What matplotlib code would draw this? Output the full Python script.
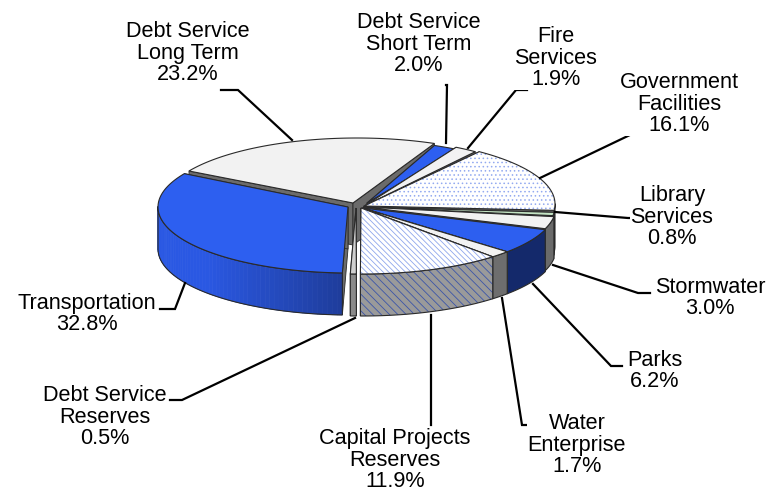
import numpy as np
import matplotlib
matplotlib.use("Agg")
import matplotlib.pyplot as plt
from matplotlib.patches import Polygon

plt.rcParams["font.family"] = ["Liberation Sans", "DejaVu Sans"]
plt.rcParams["hatch.linewidth"] = 0.6

# Budget shares, clockwise from the upper left
names = ["Debt Service\nLong Term", "Debt Service\nShort Term", "Fire\nServices",
         "Government\nFacilities", "Library\nServices", "Stormwater", "Parks",
         "Water\nEnterprise", "Capital Projects\nReserves", "Debt Service\nReserves",
         "Transportation"]
shares = [23.2, 2.0, 1.9, 16.1, 0.8, 3.0, 6.2, 1.7, 11.9, 0.5, 32.8]

# Pie geometry in pixels
start_angle = 150.0
rx = [194, 194, 194, 194, 194, 194, 194, 194, 194, 194, 192]
ry = 66
depth = 42
rim_center = [(357, 204), (357, 206), (357, 204), (361, 204), (361, 206), (362, 207),
              (362, 208), (362, 208), (362, 208), (358, 208), (350, 207)]
apex = [(353, 203), (367, 203), (366, 205), (364, 206), (364, 207), (364, 207),
        (363, 208), (362, 208), (361, 208), (356, 208), (348, 207)]

# Slice colours
top_colors = ["#f2f2f2", "#2d5ff0", "#f2f2f2", "#ffffff", "#c4e4c4", "#f2f2f2", "#2d5ff0",
              "#f2f2f2", "#ffffff", "#cfcfcf", "#2d5ff0"]
side_colors = ["#7a7a7a", "#1f3f9e", "#7a7a7a", "#7a7a7a", "#7a7a7a", "#6a6a6a", "#14296b",
               "#6e6e6e", "#9a9a9a", "#8a8a8a", "#2a55d4"]
top_hatch = {3: ("....", "#93aaf0"), 8: ("\\\\\\\\\\\\", "#8ea6ec")}
side_hatch = {8: ("\\\\\\\\", "#3c55a8")}
wall_color = "#6b6b6b"
edge_color = "#2a2a2a"

# Label centres and leader lines
label_pos = [(188, 53), (419, 44), (556, 58), (679, 104), (672, 217), (710, 298),
             (655, 371), (577, 445), (395, 460), (105, 417), (87, 314)]
leaders = [[(221, 90), (238, 90), (292, 140)],
           [(446, 85), (447, 85), (446, 143)],
           [(527, 90), (516, 90), (468, 148)],
           [(645, 134), (632, 134), (540, 178)],
           [(639, 218), (628, 218), (555, 212)],
           [(650, 293), (638, 293), (553, 265)],
           [(622, 366), (611, 366), (533, 284)],
           [(535, 425), (522, 425), (502, 298)],
           [(431, 425), (431, 422), (431, 315)],
           [(170, 400), (182, 400), (355, 318)],
           [(160, 309), (175, 309), (185, 283)]]

fig = plt.figure(figsize=(7.78, 4.98), dpi=100)
ax = fig.add_axes([0, 0, 1, 1])
ax.set_xlim(0, 778)
ax.set_ylim(498, 0)
ax.axis("off")


def rim_points(i, t0, t1, n=80):
    t = np.radians(np.linspace(t0, t1, n))
    cx, cy = rim_center[i]
    return np.column_stack((cx + rx[i] * np.cos(t), cy - ry * np.sin(t)))


def draw_side(i, pts):
    # Only the part of the rim on the lower half faces the viewer
    visible = pts[pts[:, 1] >= rim_center[i][1] - 1]
    if len(visible) < 2:
        return
    bottom = visible[::-1] + [0, depth]
    outline = np.vstack((visible, bottom))
    if i == len(shares) - 1:
        # Shaded band on the large blue slice
        for a, b, c, d in zip(visible[:-1], visible[1:], bottom[::-1][:-1], bottom[::-1][1:]):
            u = (a[0] - 158) / 190
            mix = np.clip((1 - u) * 1.35, 0, 1)
            col = np.array([0.118, 0.235, 0.60]) * (1 - mix) + np.array([0.165, 0.345, 0.89]) * mix
            ax.add_patch(Polygon([a, b, d, c], closed=True, facecolor=col, edgecolor=col, lw=0.5))
        ax.add_patch(Polygon(outline, closed=True, fill=False, edgecolor=edge_color, lw=0.8))
    elif i in side_hatch:
        ax.add_patch(Polygon(outline, closed=True, facecolor=side_colors[i],
                             edgecolor=side_hatch[i][1], hatch=side_hatch[i][0], lw=0))
        ax.add_patch(Polygon(outline, closed=True, fill=False, edgecolor=edge_color, lw=0.8))
    else:
        ax.add_patch(Polygon(outline, closed=True, facecolor=side_colors[i],
                             edgecolor=edge_color, lw=0.8))


# Back slices first so the front ones cover them
angle = start_angle
for i, share in enumerate(shares):
    t0 = angle
    t1 = angle - share * 3.6
    angle = t1
    pts = rim_points(i, t0, t1)
    ap = np.array(apex[i], dtype=float)

    # Cut faces of the slice
    for end in (pts[0], pts[-1]):
        wall = [ap, end, end + [0, depth], ap + [0, depth]]
        ax.add_patch(Polygon(wall, closed=True, facecolor=wall_color, edgecolor=edge_color, lw=0.6))

    draw_side(i, pts)

    top = np.vstack((ap, pts))
    if i in top_hatch:
        ax.add_patch(Polygon(top, closed=True, facecolor=top_colors[i],
                             edgecolor=top_hatch[i][1], hatch=top_hatch[i][0], lw=0))
        ax.add_patch(Polygon(top, closed=True, fill=False, edgecolor=edge_color, lw=0.8))
    else:
        ax.add_patch(Polygon(top, closed=True, facecolor=top_colors[i],
                             edgecolor=edge_color, lw=0.8))

for line in leaders:
    xs, ys = zip(*line)
    ax.plot(xs, ys, color="black", lw=1.6, solid_joinstyle="miter")

for name, share, (x, y) in zip(names, shares, label_pos):
    ax.text(x, y, f"{name}\n{share:.1f}%", ha="center", va="center",
            fontsize=15.6, color="black", linespacing=1.02, zorder=5,
            bbox=dict(facecolor="white", edgecolor="none", pad=0.5))

fig.savefig("out.png", dpi=100, facecolor="white")
